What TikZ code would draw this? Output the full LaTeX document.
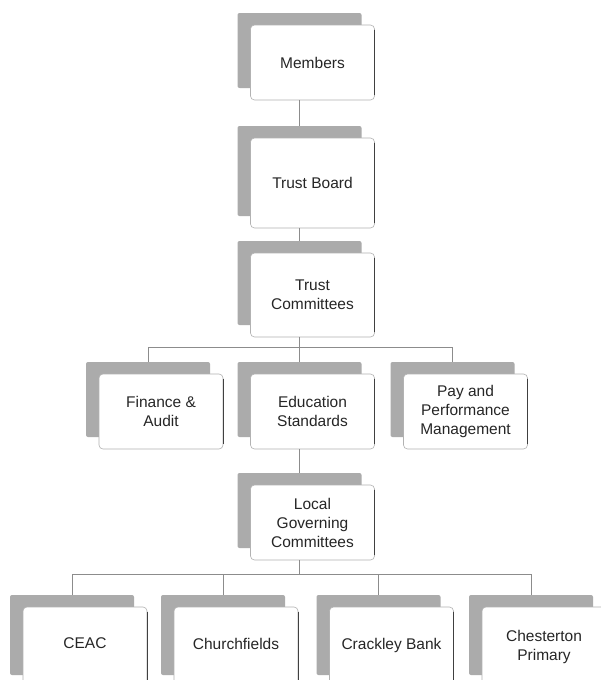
\documentclass[tikz,border=0pt]{standalone}
\usepackage{fontspec}
\setmainfont{Liberation Sans}
\begin{document}
\begin{tikzpicture}[x=1pt,y=-1pt,
  box/.style={draw=black!30, line width=0.6pt, fill=white, rounded corners=4pt,
    minimum width=124pt, inner sep=0pt, align=center,
    font=\fontsize{15.5}{19}\selectfont, text=black!85},
  shad/.style={fill=black!33, rounded corners=2pt, minimum width=124pt, inner sep=0pt},
  conn/.style={draw=black!45, line width=0.8pt},
  rightedge/.style={draw=black!75, line width=1.1pt}]
\path[use as bounding box, fill=white] (0,0) rectangle (601,680);
\clip (0,0) rectangle (601,680);
% name, cx, cy, height, text
\newcommand\orgbox[5]{%
  \node[shad, minimum height=#4pt] (#1s) at (#2-13,#3-12) {};
  \node[box, minimum height=#4pt] (#1) at (#2,#3) {#5};
  \draw[rightedge] ([yshift=-5pt]#1.north east) -- ([yshift=5pt]#1.south east);}
\orgbox{M}{312.5}{62.5}{75}{Members}
\orgbox{TB}{312.5}{183}{90}{Trust Board}
\orgbox{TC}{312.5}{295}{84}{Trust\\Committees}
\orgbox{FA}{161}{411.5}{75}{Finance \&\\Audit}
\orgbox{ES}{312.5}{411.5}{75}{Education\\Standards}
\orgbox{PP}{465.5}{411.5}{75}{Pay and\\Performance\\Management}
\orgbox{LG}{312.5}{522.5}{75}{Local\\Governing\\Committees}
\orgbox{CE}{85}{647}{80}{\raisebox{7pt}{CEAC}}
\orgbox{CH}{236}{647}{80}{\raisebox{7pt}{Churchfields}}
\orgbox{CB}{391.5}{647}{80}{\raisebox{7pt}{Crackley Bank}}
\orgbox{CP}{544}{647}{80}{\raisebox{7pt}{\begin{tabular}{@{}c@{}}Chesterton\\Primary\end{tabular}}}
% connectors
\draw[conn] (Ms |- M.south) -- (TBs.north);
\draw[conn] (TBs |- TB.south) -- (TCs.north);
\draw[conn] (TCs |- TC.south) -- ++(0,10) -| (FAs.north);
\draw[conn] (TCs |- TC.south) -- ++(0,10) -| (ESs.north);
\draw[conn] (TCs |- TC.south) -- ++(0,10) -| (PPs.north);
\draw[conn] (ESs |- ES.south) -- (LGs.north);
\draw[conn] (LGs |- LG.south) -- ++(0,14) -| (CEs.north);
\draw[conn] (LGs |- LG.south) -- ++(0,14) -| (CHs.north);
\draw[conn] (LGs |- LG.south) -- ++(0,14) -| (CBs.north);
\draw[conn] (LGs |- LG.south) -- ++(0,14) -| (CPs.north);
\end{tikzpicture}
\end{document}
